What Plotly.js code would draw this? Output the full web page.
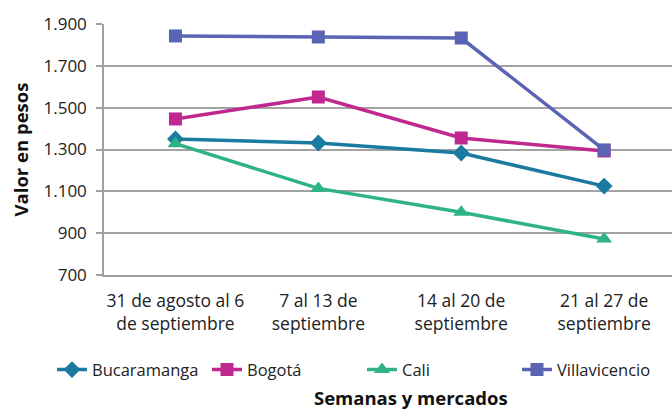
<!DOCTYPE html>
<html><head><meta charset="utf-8">
<script src="https://cdn.plot.ly/plotly-3.0.1.min.js"></script>
<style>body{margin:0;background:#fff}#c{width:672px;height:409px}</style>
</head><body><div id="c"></div>
<script>
const categories = ["31 de agosto al 6<br>de septiembre", "7 al 13 de<br>septiembre", "14 al 20 de<br>septiembre", "21 al 27 de<br>septiembre"];
const bucaramanga = [1350, 1331, 1283, 1125];
const bogota = [1446, 1551, 1355, 1293];
const cali = [1328, 1114, 1000, 872];
const villavicencio = [1843, 1838, 1833, 1298];
const yTicks = [700, 900, 1100, 1300, 1500, 1700, 1900];
const xTitle = 'Semanas y mercados';
const yTitle = 'Valor en pesos';

const xIdx = categories.map((_, i) => i);
function tr(name, y, color, symbol, size) {
  return {x: xIdx, y: y, name: name, type: 'scatter', mode: 'lines+markers',
    line: {color: color, width: 3.5}, marker: {symbol: symbol, size: size, color: color}};
}
const data = [
  tr('Bucaramanga', bucaramanga, '#1a7aa0', 'diamond', 13),
  tr('Bogotá', bogota, '#c0288f', 'square', 13),
  tr('Cali', cali, '#2fb386', 'triangle-up', 14),
  tr('Villavicencio', villavicencio, '#5b63b4', 'square', 13)
];
const font = '"Open Sans", sans-serif';
const layout = {
  width: 672, height: 409,
  margin: {l: 104, r: 0, t: 24, b: 134},
  separators: ',.',
  showlegend: true,
  font: {family: font, color: '#222', size: 16},
  plot_bgcolor: '#fff', paper_bgcolor: '#fff',
  xaxis: {
    range: [-0.5, 3.475], tickvals: xIdx, ticktext: categories, tickangle: 0, automargin: false,
    showgrid: false, zeroline: false, showline: true, linecolor: '#a0a0a0', linewidth: 1.5,
    ticks: '', ticklabelstandoff: 9, tickfont: {size: 17.5, family: font, color: '#222'}
  },
  yaxis: {
    range: [700, 1900], tickvals: yTicks, tickformat: ',d', automargin: false,
    showgrid: true, gridcolor: '#a3a3a3', gridwidth: 1.5, zeroline: false,
    showline: true, linecolor: '#a0a0a0', linewidth: 1.5,
    ticks: 'outside', ticklen: 6, tickcolor: '#a0a0a0', tickwidth: 1.5,
    ticklabelstandoff: 6,
    tickfont: {size: 17, family: font, color: '#222'},
    title: {text: '<b>' + yTitle + '</b>', font: {size: 18.5, family: font, color: '#111'}, standoff: 10}
  },
  annotations: [{text: '<b>' + xTitle + '</b>', xref: 'paper', yref: 'paper', x: (411 - 104) / 568, y: (275 - 397) / 251,
    xanchor: 'center', yanchor: 'middle', showarrow: false, font: {size: 18.5, family: font, color: '#111'}}],
  legend: {orientation: 'h', x: -0.09, xanchor: 'left', xref: 'paper', y: -0.378, yanchor: 'middle',
    entrywidth: 110, entrywidthmode: 'pixels',
    font: {size: 16.5, family: font, color: '#222'}, tracegroupgap: 0}
};
Plotly.newPlot('c', data, layout, {displayModeBar: false});
</script></body></html>
